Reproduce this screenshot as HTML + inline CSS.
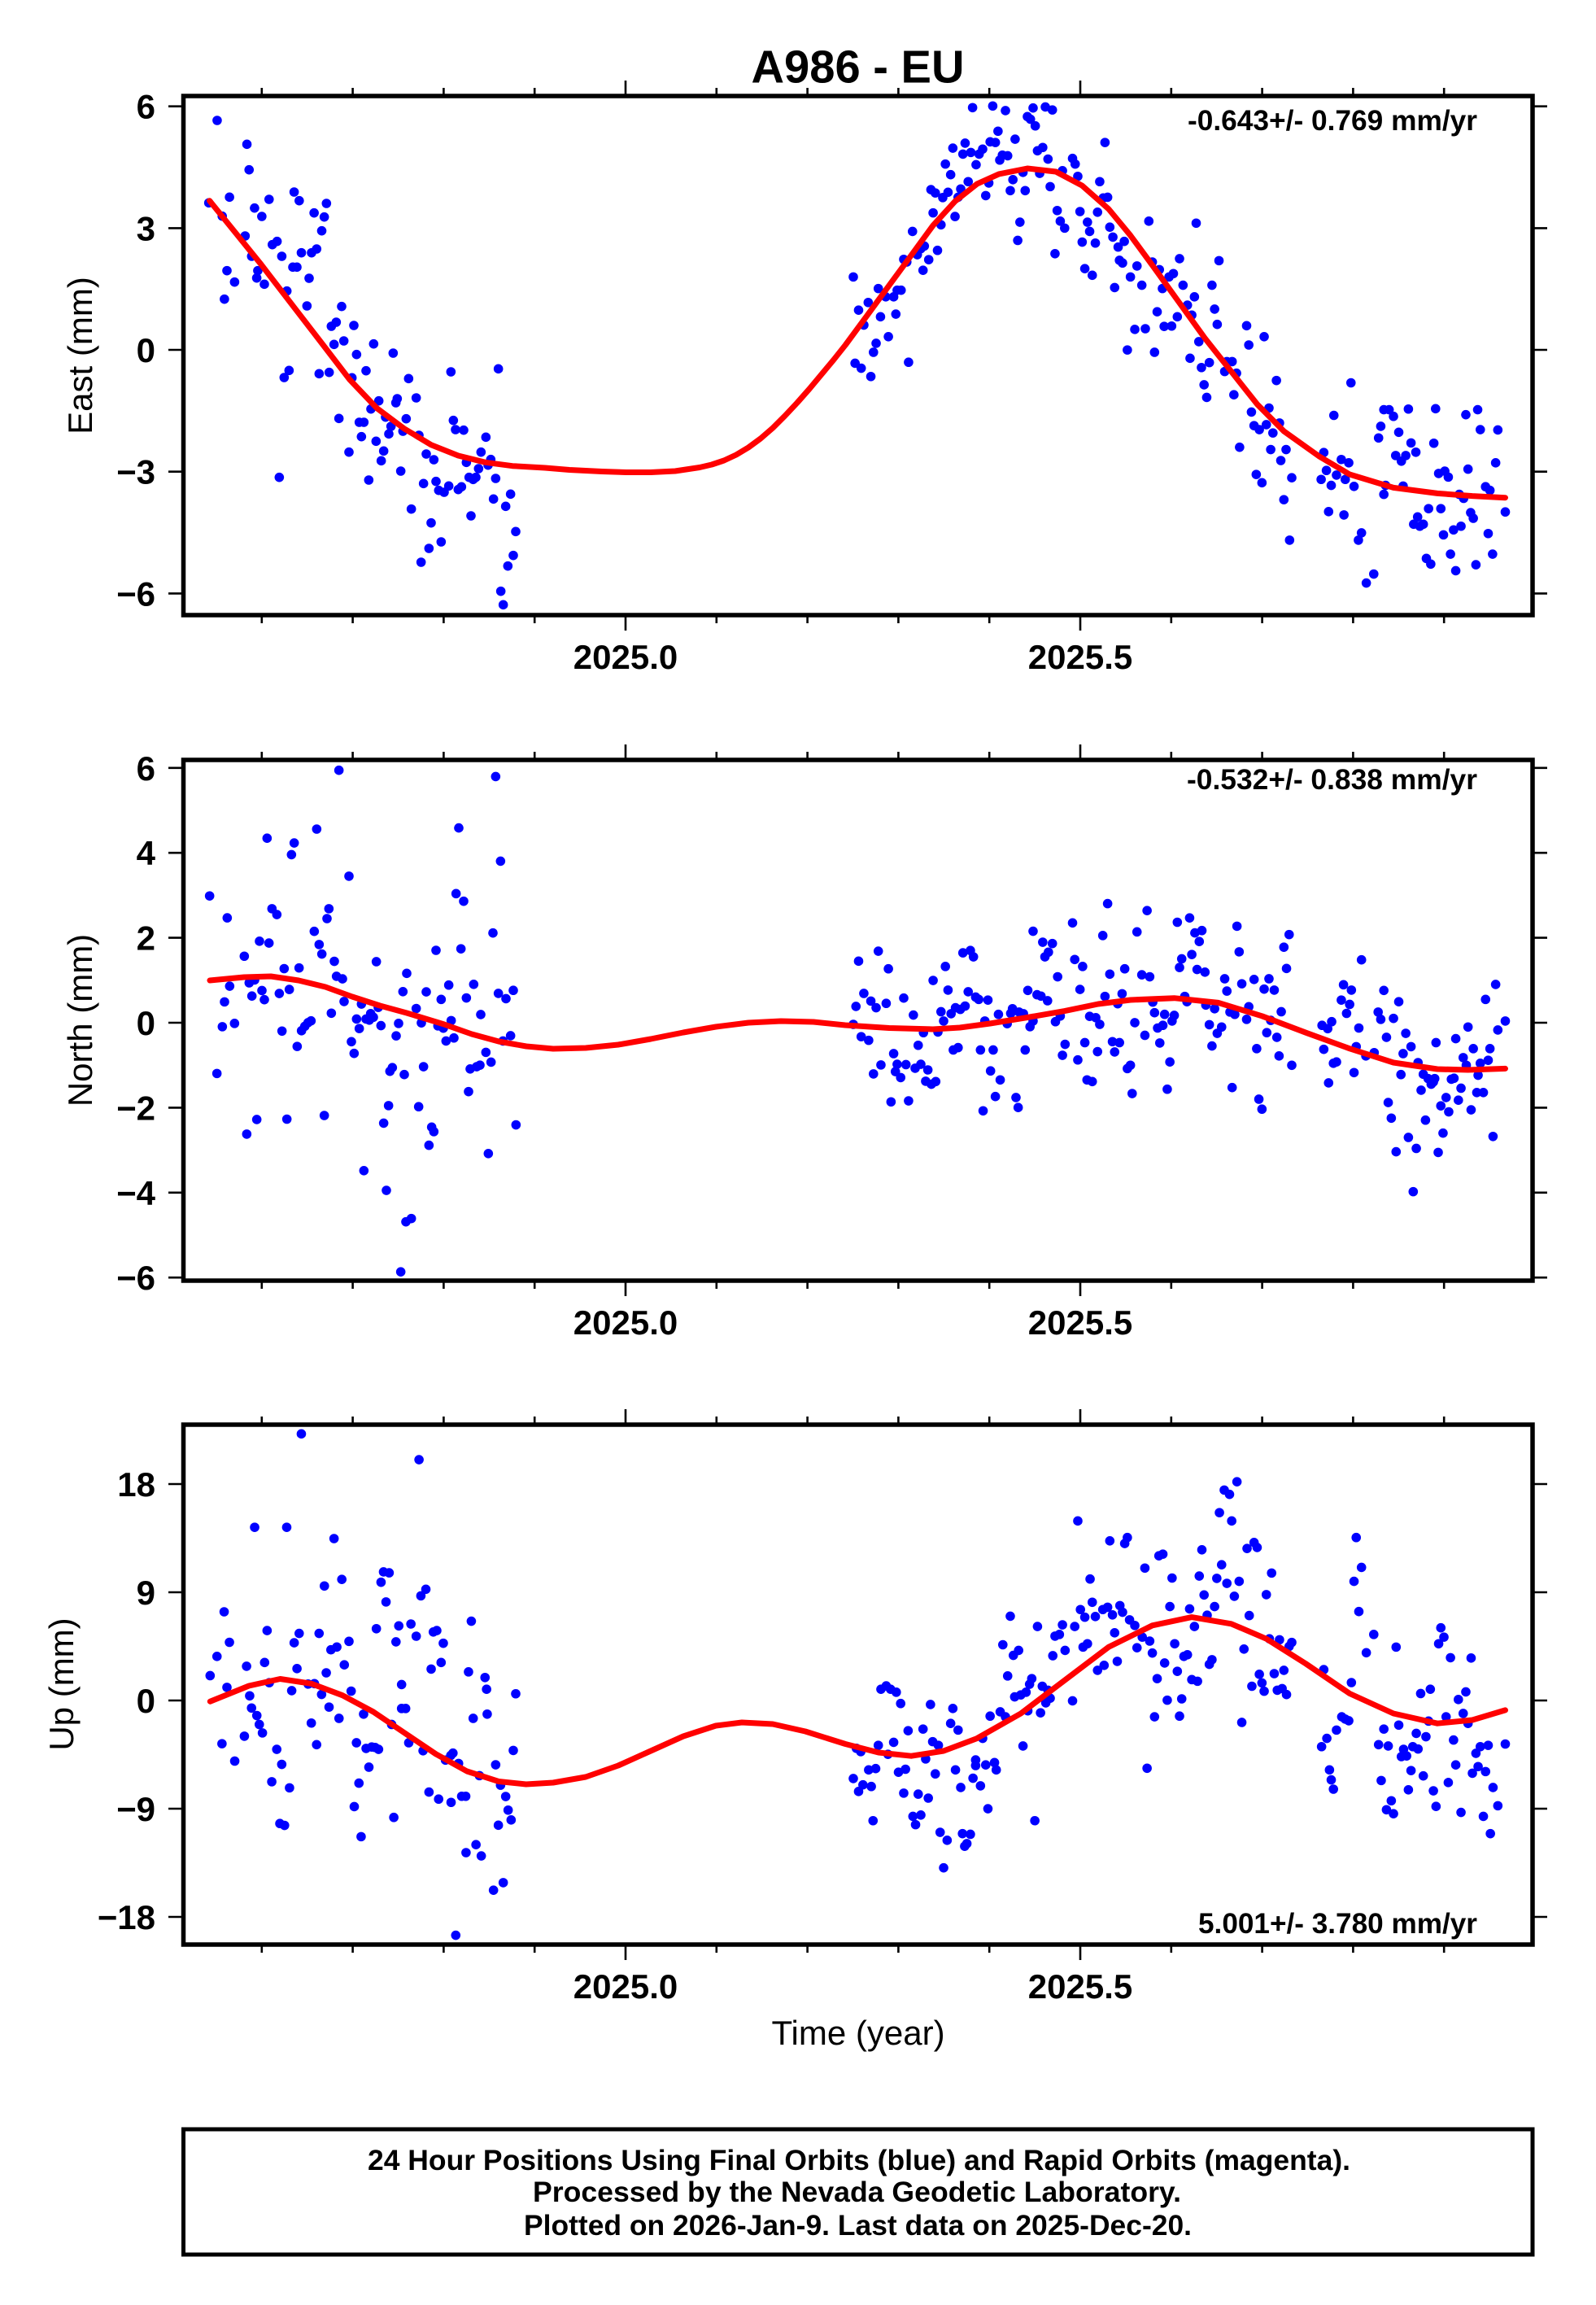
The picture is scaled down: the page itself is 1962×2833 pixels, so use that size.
<!DOCTYPE html>
<html><head><meta charset="utf-8"><title>A986 - EU</title>
<style>
html,body{margin:0;padding:0;background:#fff;}
svg{display:block;}
text{font-family:"Liberation Sans",Arial,Helvetica,sans-serif;fill:#000;}
.b{font-weight:bold;}
</style></head>
<body>
<svg xmlns="http://www.w3.org/2000/svg" width="1962" height="2833" viewBox="0 0 1962 2833">
<rect width="1962" height="2833" fill="#fff"/>
<defs>
<ellipse id="a" rx="13.0" ry="17.4"/>
<circle id="b" r="17.4"/>
<ellipse id="c" rx="10.76" ry="14.2"/>
<ellipse id="d" rx="17.4" ry="12.9"/>
<ellipse id="e" rx="15.16" ry="10.05"/>
<ellipse id="f" rx="17.4" ry="6.25"/>
<path id="tt" d="M321.8 0v-10M433.6 0v-10M545.4 0v-10M657.2 0v-10M880.8 0v-10M992.6 0v-10M1104.4 0v-10M1216.2 0v-10M1439.8 0v-10M1551.6 0v-10M1663.4 0v-10M1775.2 0v-10M769 0v-19M1328 0v-19"/>
<path id="tb" d="M321.8 0v10M433.6 0v10M545.4 0v10M657.2 0v10M880.8 0v10M992.6 0v10M1104.4 0v10M1216.2 0v10M1439.8 0v10M1551.6 0v10M1663.4 0v10M1775.2 0v10M769 0v19M1328 0v19"/>
</defs>

<!-- Title -->
<text class="b" x="1054.5" y="101.7" font-size="57" text-anchor="middle" textLength="262" lengthAdjust="spacingAndGlyphs">A986 - EU</text>

<!-- ================= DOTS ================= -->
<g fill="#0000ff">
<!-- Panel 1 left (zoom1) -->
<g transform="translate(0,0) scale(0.4464,0.33333)">
<use href="#a" x="598" y="444"/><use href="#a" x="680" y="532"/><use href="#a" x="686" y="626"/><use href="#a" x="575" y="748"/><use href="#a" x="632" y="727"/><use href="#a" x="612" y="797"/><use href="#a" x="701" y="767"/><use href="#a" x="721" y="798"/><use href="#a" x="741" y="735"/><use href="#a" x="810" y="708"/><use href="#a" x="824" y="740"/><use href="#a" x="865" y="785"/><use href="#a" x="899" y="750"/><use href="#a" x="893" y="800"/><use href="#a" x="886" y="851"/><use href="#a" x="675" y="870"/><use href="#a" x="750" y="902"/><use href="#a" x="763" y="890"/><use href="#a" x="693" y="945"/><use href="#a" x="776" y="945"/><use href="#a" x="830" y="932"/><use href="#a" x="858" y="932"/><use href="#a" x="872" y="918"/><use href="#a" x="625" y="998"/><use href="#a" x="646" y="1040"/><use href="#a" x="710" y="998"/><use href="#a" x="707" y="1025"/><use href="#a" x="728" y="1048"/><use href="#a" x="618" y="1103"/>
</g>
<!-- Panel 1 left lower (zoom8) -->
<g transform="translate(330,320) scale(0.33333)">
<use href="#b" x="90" y="25"/><use href="#b" x="105" y="25"/><use href="#b" x="150" y="66"/><use href="#b" x="68" y="113"/><use href="#b" x="142" y="168"/><use href="#b" x="270" y="170"/><use href="#b" x="232" y="243"/><use href="#b" x="250" y="228"/><use href="#b" x="315" y="240"/><use href="#b" x="242" y="310"/><use href="#b" x="278" y="297"/><use href="#b" x="388" y="308"/><use href="#b" x="325" y="347"/><use href="#b" x="460" y="342"/><use href="#b" x="76" y="406"/><use href="#b" x="58" y="432"/><use href="#b" x="187" y="418"/><use href="#b" x="224" y="413"/><use href="#b" x="360" y="407"/><use href="#b" x="308" y="433"/><use href="#b" x="517" y="436"/><use href="#b" x="673" y="411"/><use href="#b" x="848" y="400"/><use href="#b" x="475" y="510"/><use href="#b" x="470" y="525"/><use href="#b" x="545" y="507"/><use href="#b" x="407" y="518"/><use href="#b" x="378" y="548"/><use href="#b" x="432" y="578"/><use href="#b" x="508" y="584"/><use href="#b" x="260" y="583"/><use href="#b" x="335" y="597"/><use href="#b" x="352" y="597"/><use href="#b" x="452" y="612"/><use href="#b" x="496" y="630"/><use href="#b" x="555" y="645"/><use href="#b" x="682" y="590"/><use href="#b" x="690" y="624"/><use href="#b" x="720" y="626"/><use href="#b" x="444" y="640"/><use href="#b" x="343" y="650"/><use href="#b" x="397" y="667"/><use href="#b" x="802" y="652"/><use href="#b" x="425" y="703"/><use href="#b" x="297" y="707"/><use href="#b" x="582" y="714"/><use href="#b" x="610" y="735"/><use href="#b" x="784" y="707"/><use href="#b" x="820" y="734"/><use href="#b" x="730" y="745"/><use href="#b" x="810" y="755"/><use href="#b" x="775" y="768"/><use href="#b" x="416" y="739"/><use href="#b" x="488" y="777"/><use href="#b" x="40" y="800"/><use href="#b" x="370" y="810"/><use href="#b" x="740" y="800"/><use href="#b" x="765" y="800"/><use href="#b" x="755" y="808"/><use href="#b" x="838" y="804"/><use href="#b" x="572" y="823"/><use href="#b" x="618" y="815"/><use href="#b" x="628" y="848"/><use href="#b" x="648" y="855"/><use href="#b" x="665" y="832"/><use href="#b" x="700" y="845"/><use href="#b" x="712" y="835"/><use href="#b" x="830" y="880"/><use href="#b" x="893" y="862"/><use href="#b" x="875" y="907"/><use href="#b" x="527" y="917"/><use href="#b" x="747" y="942"/><use href="#b" x="600" y="968"/><use href="#b" x="912" y="1000"/><use href="#b" x="637" y="1038"/><use href="#b" x="592" y="1062"/><use href="#b" x="903" y="1088"/><use href="#b" x="563" y="1113"/><use href="#b" x="883" y="1127"/><use href="#b" x="857" y="1220"/><use href="#b" x="866" y="1270"/>
</g>
<!-- Panel 1 right (zoom9) -->
<g transform="translate(1039.3,118) scale(0.539,0.408)">
<use href="#c" x="290" y="35"/><use href="#c" x="336" y="30"/><use href="#c" x="365" y="44"/><use href="#c" x="428" y="36"/><use href="#c" x="456" y="33"/><use href="#c" x="472" y="42"/><use href="#c" x="415" y="62"/><use href="#c" x="422" y="70"/><use href="#c" x="433" y="90"/><use href="#c" x="348" y="106"/><use href="#c" x="387" y="130"/><use href="#c" x="592" y="140"/><use href="#c" x="273" y="142"/><use href="#c" x="245" y="157"/><use href="#c" x="330" y="138"/><use href="#c" x="342" y="140"/><use href="#c" x="268" y="175"/><use href="#c" x="286" y="170"/><use href="#c" x="305" y="175"/><use href="#c" x="313" y="160"/><use href="#c" x="358" y="178"/><use href="#c" x="370" y="180"/><use href="#c" x="352" y="193"/><use href="#c" x="298" y="207"/><use href="#c" x="228" y="205"/><use href="#c" x="438" y="165"/><use href="#c" x="450" y="155"/><use href="#c" x="462" y="190"/><use href="#c" x="518" y="188"/><use href="#c" x="524" y="205"/><use href="#c" x="240" y="237"/><use href="#c" x="280" y="258"/><use href="#c" x="263" y="280"/><use href="#c" x="195" y="282"/><use href="#c" x="205" y="292"/><use href="#c" x="222" y="306"/><use href="#c" x="234" y="290"/><use href="#c" x="257" y="305"/><use href="#c" x="327" y="262"/><use href="#c" x="320" y="300"/><use href="#c" x="382" y="252"/><use href="#c" x="376" y="285"/><use href="#c" x="410" y="285"/><use href="#c" x="405" y="230"/><use href="#c" x="443" y="233"/><use href="#c" x="495" y="225"/><use href="#c" x="530" y="242"/><use href="#c" x="580" y="258"/><use href="#c" x="467" y="273"/><use href="#c" x="588" y="307"/><use href="#c" x="598" y="305"/><use href="#c" x="200" y="352"/><use href="#c" x="250" y="363"/><use href="#c" x="218" y="388"/><use href="#c" x="483" y="345"/><use href="#c" x="535" y="348"/><use href="#c" x="575" y="350"/><use href="#c" x="490" y="377"/><use href="#c" x="500" y="398"/><use href="#c" x="552" y="380"/><use href="#c" x="557" y="408"/><use href="#c" x="398" y="380"/><use href="#c" x="393" y="435"/><use href="#c" x="153" y="408"/><use href="#c" x="540" y="440"/><use href="#c" x="570" y="443"/><use href="#c" x="603" y="395"/><use href="#c" x="610" y="425"/><use href="#c" x="622" y="455"/><use href="#c" x="636" y="438"/><use href="#c" x="692" y="377"/><use href="#c" x="800" y="383"/><use href="#c" x="478" y="475"/><use href="#c" x="210" y="465"/><use href="#c" x="172" y="460"/><use href="#c" x="180" y="452"/><use href="#c" x="164" y="478"/><use href="#c" x="190" y="493"/><use href="#c" x="133" y="492"/><use href="#c" x="140" y="500"/><use href="#c" x="177" y="525"/><use href="#c" x="18" y="545"/><use href="#c" x="546" y="520"/><use href="#c" x="563" y="540"/><use href="#c" x="625" y="495"/><use href="#c" x="632" y="503"/><use href="#c" x="665" y="512"/><use href="#c" x="700" y="500"/><use href="#c" x="716" y="523"/><use href="#c" x="762" y="490"/><use href="#c" x="852" y="496"/><use href="#c" x="650" y="545"/><use href="#c" x="676" y="570"/><use href="#c" x="614" y="577"/><use href="#c" x="723" y="580"/><use href="#c" x="738" y="545"/><use href="#c" x="748" y="535"/><use href="#c" x="770" y="570"/><use href="#c" x="836" y="570"/><use href="#c" x="75" y="580"/><use href="#c" x="92" y="605"/><use href="#c" x="110" y="605"/><use href="#c" x="118" y="585"/><use href="#c" x="127" y="585"/><use href="#c" x="52" y="622"/><use href="#c" x="30" y="645"/><use href="#c" x="80" y="665"/><use href="#c" x="115" y="657"/><use href="#c" x="42" y="690"/><use href="#c" x="98" y="725"/><use href="#c" x="70" y="745"/><use href="#c" x="64" y="772"/><use href="#c" x="22" y="805"/><use href="#c" x="36" y="820"/><use href="#c" x="58" y="845"/><use href="#c" x="144" y="802"/><use href="#c" x="796" y="605"/><use href="#c" x="780" y="630"/><use href="#c" x="790" y="660"/><use href="#c" x="842" y="642"/><use href="#c" x="848" y="688"/><use href="#c" x="711" y="650"/><use href="#c" x="757" y="665"/><use href="#c" x="727" y="694"/><use href="#c" x="744" y="693"/><use href="#c" x="660" y="703"/><use href="#c" x="684" y="701"/><use href="#c" x="643" y="765"/><use href="#c" x="705" y="772"/><use href="#c" x="915" y="692"/><use href="#c" x="955" y="725"/><use href="#c" x="920" y="750"/><use href="#c" x="806" y="740"/><use href="#c" x="786" y="790"/><use href="#c" x="812" y="818"/><use href="#c" x="830" y="803"/><use href="#c" x="870" y="800"/><use href="#c" x="882" y="800"/><use href="#c" x="865" y="830"/><use href="#c" x="892" y="835"/><use href="#c" x="818" y="870"/><use href="#c" x="824" y="908"/><use href="#c" x="886" y="900"/><use href="#c" x="983" y="857"/><use href="#c" x="1153" y="864"/><use href="#c" x="926" y="952"/><use href="#c" x="966" y="940"/><use href="#c" x="1114" y="962"/><use href="#c" x="932" y="993"/><use href="#c" x="944" y="1005"/><use href="#c" x="960" y="990"/><use href="#c" x="990" y="985"/><use href="#c" x="975" y="1015"/><use href="#c" x="899" y="1058"/><use href="#c" x="970" y="1065"/><use href="#c" x="1005" y="1065"/><use href="#c" x="993" y="1098"/><use href="#c" x="937" y="1140"/><use href="#c" x="950" y="1165"/><use href="#c" x="1018" y="1150"/><use href="#c" x="1000" y="1216"/><use href="#c" x="1013" y="1338"/><use href="#c" x="1091" y="1074"/><use href="#c" x="1097" y="1128"/><use href="#c" x="1085" y="1155"/><use href="#c" x="1108" y="1173"/><use href="#c" x="1120" y="1142"/><use href="#c" x="1131" y="1095"/><use href="#c" x="1148" y="1105"/><use href="#c" x="1140" y="1155"/><use href="#c" x="1160" y="1176"/><use href="#c" x="1102" y="1252"/><use href="#c" x="1137" y="1262"/><use href="#c" x="1177" y="1316"/><use href="#c" x="1170" y="1338"/><use href="#c" x="1205" y="1440"/><use href="#c" x="1188" y="1467"/><use href="#c" x="1228" y="945"/><use href="#c" x="1240" y="945"/><use href="#c" x="1250" y="965"/><use href="#c" x="1284" y="943"/><use href="#c" x="1346" y="942"/><use href="#c" x="1415" y="960"/><use href="#c" x="1442" y="945"/><use href="#c" x="1221" y="995"/><use href="#c" x="1216" y="1030"/><use href="#c" x="1262" y="1013"/><use href="#c" x="1290" y="1045"/><use href="#c" x="1342" y="1046"/><use href="#c" x="1301" y="1073"/><use href="#c" x="1255" y="1083"/><use href="#c" x="1268" y="1100"/><use href="#c" x="1278" y="1083"/><use href="#c" x="1448" y="1005"/><use href="#c" x="1488" y="1006"/><use href="#c" x="1353" y="1137"/><use href="#c" x="1367" y="1130"/><use href="#c" x="1375" y="1148"/><use href="#c" x="1420" y="1124"/><use href="#c" x="1483" y="1105"/><use href="#c" x="1232" y="1173"/><use href="#c" x="1228" y="1200"/><use href="#c" x="1272" y="1175"/><use href="#c" x="1400" y="1200"/><use href="#c" x="1410" y="1212"/><use href="#c" x="1460" y="1177"/><use href="#c" x="1470" y="1188"/><use href="#c" x="1330" y="1243"/><use href="#c" x="1358" y="1243"/><use href="#c" x="1305" y="1268"/><use href="#c" x="1296" y="1290"/><use href="#c" x="1318" y="1290"/><use href="#c" x="1310" y="1296"/><use href="#c" x="1364" y="1322"/><use href="#c" x="1387" y="1307"/><use href="#c" x="1404" y="1296"/><use href="#c" x="1426" y="1255"/><use href="#c" x="1432" y="1272"/><use href="#c" x="1466" y="1318"/><use href="#c" x="1505" y="1253"/><use href="#c" x="1380" y="1380"/><use href="#c" x="1325" y="1393"/><use href="#c" x="1335" y="1410"/><use href="#c" x="1392" y="1430"/><use href="#c" x="1438" y="1412"/><use href="#c" x="1476" y="1380"/>
</g>

<!-- Panel 2 left (zoom4) -->
<g transform="translate(0,900) scale(0.33333,0.449)">
<use href="#d" x="1250" y="104"/><use href="#d" x="985" y="290"/><use href="#d" x="1085" y="303"/><use href="#d" x="1075" y="335"/><use href="#d" x="1168" y="265"/><use href="#d" x="1287" y="394"/><use href="#d" x="773" y="448"/><use href="#d" x="838" y="508"/><use href="#d" x="1003" y="483"/><use href="#d" x="1021" y="499"/><use href="#d" x="1213" y="483"/><use href="#d" x="1206" y="510"/><use href="#d" x="1159" y="545"/><use href="#d" x="957" y="572"/><use href="#d" x="992" y="577"/><use href="#d" x="1177" y="581"/><use href="#d" x="1187" y="607"/><use href="#d" x="1388" y="628"/><use href="#d" x="1233" y="627"/><use href="#d" x="901" y="613"/><use href="#d" x="1048" y="647"/><use href="#d" x="1103" y="645"/><use href="#d" x="1241" y="668"/><use href="#d" x="1263" y="675"/><use href="#d" x="1500" y="660"/><use href="#d" x="1486" y="710"/><use href="#d" x="939" y="678"/><use href="#d" x="919" y="686"/><use href="#d" x="847" y="695"/><use href="#d" x="966" y="707"/><use href="#d" x="929" y="722"/><use href="#d" x="975" y="732"/><use href="#d" x="1030" y="715"/><use href="#d" x="1067" y="704"/><use href="#d" x="828" y="738"/><use href="#d" x="1269" y="737"/><use href="#d" x="1333" y="744"/><use href="#d" x="1222" y="769"/><use href="#d" x="1395" y="753"/><use href="#d" x="1367" y="770"/><use href="#d" x="1350" y="785"/><use href="#d" x="1377" y="780"/><use href="#d" x="1315" y="785"/><use href="#d" x="1362" y="788"/><use href="#d" x="1147" y="790"/><use href="#d" x="1136" y="795"/><use href="#d" x="1124" y="805"/><use href="#d" x="1112" y="817"/><use href="#d" x="1040" y="818"/><use href="#d" x="865" y="797"/><use href="#d" x="820" y="806"/><use href="#d" x="1405" y="803"/><use href="#d" x="1470" y="797"/><use href="#d" x="1325" y="811"/><use href="#d" x="1296" y="847"/><use href="#d" x="1306" y="879"/><use href="#d" x="1096" y="860"/><use href="#d" x="1461" y="831"/><use href="#d" x="1447" y="918"/><use href="#d" x="1438" y="928"/><use href="#d" x="1491" y="937"/><use href="#d" x="800" y="934"/><use href="#d" x="1433" y="1022"/><use href="#d" x="1415" y="1070"/><use href="#d" x="1196" y="1049"/><use href="#d" x="1058" y="1059"/><use href="#d" x="947" y="1060"/><use href="#d" x="910" y="1100"/><use href="#d" x="1342" y="1200"/><use href="#d" x="1425" y="1254"/><use href="#d" x="1478" y="1477"/><use href="#d" x="1497" y="1340"/>
</g>
<!-- Panel 2 mid-left & panel 3 mid (zoom12) -->
<g transform="translate(480,934) scale(0.33333,0.9286)">
<use href="#f" x="388" y="22"/><use href="#f" x="252" y="90"/><use href="#f" x="406" y="134"/><use href="#f" x="242" y="177"/><use href="#f" x="270" y="187"/><use href="#f" x="378" y="229"/><use href="#f" x="168" y="252"/><use href="#f" x="260" y="250"/><use href="#f" x="132" y="307"/><use href="#f" x="215" y="298"/><use href="#f" x="187" y="317"/><use href="#f" x="280" y="315"/><use href="#f" x="307" y="297"/><use href="#f" x="398" y="309"/><use href="#f" x="426" y="316"/><use href="#f" x="453" y="305"/><use href="#f" x="95" y="329"/><use href="#f" x="114" y="348"/><use href="#f" x="224" y="345"/><use href="#f" x="175" y="352"/><use href="#f" x="195" y="355"/><use href="#f" x="205" y="372"/><use href="#f" x="234" y="368"/><use href="#f" x="333" y="337"/><use href="#f" x="443" y="365"/><use href="#f" x="415" y="372"/><use href="#f" x="352" y="387"/><use href="#f" x="371" y="400"/><use href="#f" x="122" y="406"/><use href="#f" x="294" y="409"/><use href="#f" x="318" y="406"/><use href="#f" x="330" y="404"/><use href="#f" x="288" y="439"/><use href="#f" x="104" y="459"/><use href="#f" x="152" y="486"/><use href="#f" x="160" y="492"/><use href="#f" x="142" y="510"/><use href="#f" x="463" y="483"/><use href="#f" x="361" y="521"/><use href="#f" x="77" y="607"/>
<use href="#f" x="462" y="1236"/><use href="#f" x="453" y="1311"/><use href="#f" x="388" y="1330"/><use href="#f" x="406" y="1357"/><use href="#f" x="425" y="1372"/><use href="#f" x="434" y="1390"/><use href="#f" x="445" y="1403"/><use href="#f" x="398" y="1410"/><use href="#f" x="380" y="1496"/><use href="#f" x="416" y="1486"/>
</g>
<!-- Panel 2 right (zoom10) -->
<g transform="translate(1039.3,934) scale(0.539,0.4088)">
<use href="#c" x="598" y="432"/><use href="#c" x="688" y="453"/><use href="#c" x="518" y="490"/><use href="#c" x="757" y="488"/><use href="#c" x="785" y="475"/><use href="#c" x="893" y="500"/><use href="#c" x="428" y="515"/><use href="#c" x="665" y="517"/><use href="#c" x="587" y="528"/><use href="#c" x="797" y="520"/><use href="#c" x="813" y="513"/><use href="#c" x="807" y="546"/><use href="#c" x="1012" y="525"/><use href="#c" x="450" y="548"/><use href="#c" x="472" y="552"/><use href="#c" x="463" y="578"/><use href="#c" x="455" y="592"/><use href="#c" x="1000" y="563"/><use href="#c" x="898" y="577"/><use href="#c" x="75" y="575"/><use href="#c" x="30" y="605"/><use href="#c" x="98" y="628"/><use href="#c" x="268" y="580"/><use href="#c" x="285" y="573"/><use href="#c" x="292" y="592"/><use href="#c" x="523" y="600"/><use href="#c" x="541" y="621"/><use href="#c" x="637" y="628"/><use href="#c" x="603" y="644"/><use href="#c" x="676" y="646"/><use href="#c" x="694" y="652"/><use href="#c" x="767" y="598"/><use href="#c" x="762" y="624"/><use href="#c" x="790" y="585"/><use href="#c" x="802" y="630"/><use href="#c" x="820" y="638"/><use href="#c" x="1006" y="627"/><use href="#c" x="1177" y="601"/><use href="#c" x="228" y="621"/><use href="#c" x="200" y="663"/><use href="#c" x="484" y="652"/><use href="#c" x="865" y="658"/><use href="#c" x="904" y="673"/><use href="#c" x="932" y="660"/><use href="#c" x="966" y="658"/><use href="#c" x="955" y="689"/><use href="#c" x="978" y="692"/><use href="#c" x="870" y="695"/><use href="#c" x="1136" y="676"/><use href="#c" x="1154" y="692"/><use href="#c" x="1228" y="693"/><use href="#c" x="1483" y="675"/><use href="#c" x="42" y="702"/><use href="#c" x="58" y="725"/><use href="#c" x="70" y="745"/><use href="#c" x="24" y="741"/><use href="#c" x="93" y="732"/><use href="#c" x="133" y="716"/><use href="#c" x="234" y="692"/><use href="#c" x="280" y="697"/><use href="#c" x="297" y="713"/><use href="#c" x="304" y="720"/><use href="#c" x="325" y="722"/><use href="#c" x="416" y="693"/><use href="#c" x="437" y="706"/><use href="#c" x="446" y="710"/><use href="#c" x="461" y="724"/><use href="#c" x="535" y="690"/><use href="#c" x="592" y="711"/><use href="#c" x="631" y="703"/><use href="#c" x="621" y="733"/><use href="#c" x="701" y="728"/><use href="#c" x="774" y="711"/><use href="#c" x="779" y="727"/><use href="#c" x="822" y="737"/><use href="#c" x="842" y="748"/><use href="#c" x="920" y="742"/><use href="#c" x="1131" y="722"/><use href="#c" x="1150" y="735"/><use href="#c" x="1143" y="762"/><use href="#c" x="1262" y="727"/><use href="#c" x="1460" y="720"/><use href="#c" x="18" y="795"/><use href="#c" x="155" y="767"/><use href="#c" x="218" y="757"/><use href="#c" x="241" y="763"/><use href="#c" x="251" y="745"/><use href="#c" x="262" y="750"/><use href="#c" x="273" y="740"/><use href="#c" x="224" y="785"/><use href="#c" x="349" y="765"/><use href="#c" x="381" y="748"/><use href="#c" x="377" y="762"/><use href="#c" x="369" y="793"/><use href="#c" x="396" y="758"/><use href="#c" x="406" y="763"/><use href="#c" x="428" y="785"/><use href="#c" x="421" y="802"/><use href="#c" x="479" y="787"/><use href="#c" x="490" y="770"/><use href="#c" x="557" y="771"/><use href="#c" x="571" y="775"/><use href="#c" x="580" y="795"/><use href="#c" x="660" y="790"/><use href="#c" x="705" y="760"/><use href="#c" x="728" y="765"/><use href="#c" x="750" y="768"/><use href="#c" x="745" y="785"/><use href="#c" x="712" y="806"/><use href="#c" x="724" y="798"/><use href="#c" x="830" y="796"/><use href="#c" x="858" y="803"/><use href="#c" x="848" y="822"/><use href="#c" x="877" y="758"/><use href="#c" x="888" y="765"/><use href="#c" x="915" y="780"/><use href="#c" x="994" y="757"/><use href="#c" x="970" y="783"/><use href="#c" x="1087" y="798"/><use href="#c" x="1100" y="808"/><use href="#c" x="1109" y="787"/><use href="#c" x="1215" y="758"/><use href="#c" x="1221" y="780"/><use href="#c" x="1250" y="777"/><use href="#c" x="1505" y="785"/><use href="#c" x="1488" y="812"/><use href="#c" x="1420" y="803"/><use href="#c" x="36" y="832"/><use href="#c" x="53" y="843"/><use href="#c" x="178" y="820"/><use href="#c" x="211" y="818"/><use href="#c" x="318" y="785"/><use href="#c" x="166" y="858"/><use href="#c" x="246" y="872"/><use href="#c" x="257" y="865"/><use href="#c" x="308" y="872"/><use href="#c" x="337" y="872"/><use href="#c" x="410" y="872"/><use href="#c" x="501" y="855"/><use href="#c" x="546" y="850"/><use href="#c" x="575" y="877"/><use href="#c" x="609" y="847"/><use href="#c" x="625" y="850"/><use href="#c" x="614" y="878"/><use href="#c" x="683" y="828"/><use href="#c" x="717" y="851"/><use href="#c" x="836" y="860"/><use href="#c" x="961" y="820"/><use href="#c" x="984" y="834"/><use href="#c" x="938" y="868"/><use href="#c" x="989" y="890"/><use href="#c" x="1091" y="870"/><use href="#c" x="1171" y="806"/><use href="#c" x="1165" y="862"/><use href="#c" x="1187" y="890"/><use href="#c" x="1206" y="880"/><use href="#c" x="1234" y="834"/><use href="#c" x="1278" y="822"/><use href="#c" x="1290" y="862"/><use href="#c" x="1272" y="883"/><use href="#c" x="1347" y="850"/><use href="#c" x="1392" y="838"/><use href="#c" x="1432" y="868"/><use href="#c" x="1470" y="868"/><use href="#c" x="110" y="883"/><use href="#c" x="81" y="917"/><use href="#c" x="64" y="944"/><use href="#c" x="118" y="915"/><use href="#c" x="138" y="916"/><use href="#c" x="114" y="937"/><use href="#c" x="126" y="955"/><use href="#c" x="159" y="927"/><use href="#c" x="172" y="915"/><use href="#c" x="188" y="932"/><use href="#c" x="183" y="966"/><use href="#c" x="196" y="975"/><use href="#c" x="206" y="967"/><use href="#c" x="331" y="935"/><use href="#c" x="353" y="962"/><use href="#c" x="495" y="888"/><use href="#c" x="530" y="902"/><use href="#c" x="643" y="928"/><use href="#c" x="650" y="918"/><use href="#c" x="740" y="908"/><use href="#c" x="1018" y="918"/><use href="#c" x="1113" y="912"/><use href="#c" x="1120" y="908"/><use href="#c" x="1160" y="940"/><use href="#c" x="1306" y="910"/><use href="#c" x="1267" y="946"/><use href="#c" x="1318" y="945"/><use href="#c" x="1329" y="958"/><use href="#c" x="1341" y="968"/><use href="#c" x="1336" y="975"/><use href="#c" x="1313" y="993"/><use href="#c" x="1344" y="958"/><use href="#c" x="1382" y="960"/><use href="#c" x="1388" y="957"/><use href="#c" x="1409" y="895"/><use href="#c" x="1416" y="918"/><use href="#c" x="1448" y="912"/><use href="#c" x="1466" y="903"/><use href="#c" x="1443" y="948"/><use href="#c" x="1404" y="987"/><use href="#c" x="1440" y="1000"/><use href="#c" x="1455" y="1000"/><use href="#c" x="1370" y="1015"/><use href="#c" x="1398" y="1023"/><use href="#c" x="1358" y="1040"/><use href="#c" x="1376" y="1058"/><use href="#c" x="1427" y="1052"/><use href="#c" x="1238" y="1030"/><use href="#c" x="1245" y="1077"/><use href="#c" x="1323" y="1083"/><use href="#c" x="1363" y="1122"/><use href="#c" x="1284" y="1135"/><use href="#c" x="1302" y="1168"/><use href="#c" x="1256" y="1178"/><use href="#c" x="1352" y="1180"/><use href="#c" x="1477" y="1132"/><use href="#c" x="1295" y="1298"/><use href="#c" x="551" y="962"/><use href="#c" x="563" y="967"/><use href="#c" x="654" y="1003"/><use href="#c" x="734" y="990"/><use href="#c" x="882" y="985"/><use href="#c" x="943" y="1020"/><use href="#c" x="950" y="1050"/><use href="#c" x="1102" y="971"/><use href="#c" x="104" y="1028"/><use href="#c" x="144" y="1025"/><use href="#c" x="342" y="1012"/><use href="#c" x="389" y="1015"/><use href="#c" x="394" y="1045"/><use href="#c" x="314" y="1055"/>
</g>

<!-- Panel 3 left (zoom6) -->
<g transform="translate(0,1700) scale(0.3827,0.577)">
<use href="#e" x="968" y="108"/><use href="#e" x="1346" y="163"/><use href="#e" x="818" y="307"/><use href="#e" x="921" y="307"/><use href="#e" x="1073" y="331"/><use href="#e" x="1042" y="432"/><use href="#e" x="1098" y="418"/><use href="#e" x="1224" y="424"/><use href="#e" x="1232" y="402"/><use href="#e" x="1250" y="404"/><use href="#e" x="1240" y="466"/><use href="#e" x="1352" y="453"/><use href="#e" x="1368" y="439"/><use href="#e" x="720" y="487"/><use href="#e" x="697" y="582"/><use href="#e" x="737" y="552"/><use href="#e" x="675" y="623"/><use href="#e" x="729" y="648"/><use href="#e" x="792" y="603"/><use href="#e" x="802" y="666"/><use href="#e" x="808" y="692"/><use href="#e" x="825" y="708"/><use href="#e" x="833" y="727"/><use href="#e" x="843" y="745"/><use href="#e" x="850" y="595"/><use href="#e" x="858" y="527"/><use href="#e" x="865" y="638"/><use href="#e" x="937" y="655"/><use href="#e" x="945" y="553"/><use href="#e" x="954" y="608"/><use href="#e" x="961" y="533"/><use href="#e" x="1025" y="533"/><use href="#e" x="1048" y="617"/><use href="#e" x="1063" y="568"/><use href="#e" x="1082" y="562"/><use href="#e" x="1106" y="600"/><use href="#e" x="1121" y="550"/><use href="#e" x="1128" y="656"/><use href="#e" x="1209" y="523"/><use href="#e" x="1272" y="551"/><use href="#e" x="1281" y="517"/><use href="#e" x="1290" y="642"/><use href="#e" x="1320" y="513"/><use href="#e" x="1337" y="539"/><use href="#e" x="1392" y="530"/><use href="#e" x="1403" y="527"/><use href="#e" x="1385" y="609"/><use href="#e" x="1424" y="554"/><use href="#e" x="1417" y="595"/><use href="#e" x="1505" y="615"/><use href="#e" x="1514" y="507"/><use href="#e" x="1558" y="627"/><use href="#e" x="1563" y="652"/><use href="#e" x="1520" y="714"/><use href="#e" x="1565" y="705"/><use href="#e" x="713" y="768"/><use href="#e" x="754" y="805"/><use href="#e" x="785" y="752"/><use href="#e" x="873" y="849"/><use href="#e" x="889" y="780"/><use href="#e" x="905" y="812"/><use href="#e" x="930" y="862"/><use href="#e" x="899" y="938"/><use href="#e" x="914" y="942"/><use href="#e" x="990" y="641"/><use href="#e" x="1010" y="640"/><use href="#e" x="1033" y="663"/><use href="#e" x="1057" y="690"/><use href="#e" x="1089" y="714"/><use href="#e" x="1000" y="724"/><use href="#e" x="1017" y="770"/><use href="#e" x="1145" y="766"/><use href="#e" x="1153" y="852"/><use href="#e" x="1168" y="705"/><use href="#e" x="1176" y="778"/><use href="#e" x="1194" y="775"/><use href="#e" x="1205" y="776"/><use href="#e" x="1216" y="780"/><use href="#e" x="1185" y="818"/><use href="#e" x="1138" y="902"/><use href="#e" x="1160" y="966"/><use href="#e" x="1258" y="727"/><use href="#e" x="1265" y="925"/><use href="#e" x="1290" y="693"/><use href="#e" x="1303" y="693"/><use href="#e" x="1313" y="766"/><use href="#e" x="1359" y="783"/><use href="#e" x="1378" y="871"/><use href="#e" x="1409" y="886"/><use href="#e" x="1431" y="803"/><use href="#e" x="1448" y="793"/><use href="#e" x="1455" y="788"/><use href="#e" x="1473" y="810"/><use href="#e" x="1449" y="893"/><use href="#e" x="1483" y="880"/><use href="#e" x="1496" y="880"/><use href="#e" x="1540" y="836"/><use href="#e" x="1497" y="1000"/><use href="#e" x="1529" y="983"/><use href="#e" x="1546" y="1007"/><use href="#e" x="1464" y="1176"/>
</g>
<!-- Panel 3 right (zoom11) -->
<g transform="translate(1039.3,1751) scale(0.539,0.408)">
<use href="#c" x="893" y="172"/><use href="#c" x="864" y="197"/><use href="#c" x="876" y="210"/><use href="#c" x="853" y="265"/><use href="#c" x="881" y="290"/><use href="#c" x="530" y="290"/><use href="#c" x="1165" y="340"/><use href="#c" x="603" y="350"/><use href="#c" x="643" y="340"/><use href="#c" x="637" y="358"/><use href="#c" x="916" y="373"/><use href="#c" x="932" y="355"/><use href="#c" x="939" y="370"/><use href="#c" x="813" y="377"/><use href="#c" x="715" y="395"/><use href="#c" x="724" y="390"/><use href="#c" x="858" y="422"/><use href="#c" x="683" y="432"/><use href="#c" x="1177" y="430"/><use href="#c" x="745" y="462"/><use href="#c" x="807" y="456"/><use href="#c" x="847" y="463"/><use href="#c" x="870" y="478"/><use href="#c" x="898" y="472"/><use href="#c" x="972" y="447"/><use href="#c" x="558" y="465"/><use href="#c" x="1160" y="472"/><use href="#c" x="887" y="517"/><use href="#c" x="818" y="513"/><use href="#c" x="960" y="512"/><use href="#c" x="563" y="535"/><use href="#c" x="536" y="557"/><use href="#c" x="546" y="580"/><use href="#c" x="570" y="578"/><use href="#c" x="587" y="557"/><use href="#c" x="598" y="550"/><use href="#c" x="609" y="573"/><use href="#c" x="626" y="545"/><use href="#c" x="632" y="565"/><use href="#c" x="740" y="548"/><use href="#c" x="785" y="555"/><use href="#c" x="842" y="548"/><use href="#c" x="825" y="574"/><use href="#c" x="921" y="575"/><use href="#c" x="1171" y="563"/><use href="#c" x="376" y="577"/><use href="#c" x="438" y="608"/><use href="#c" x="495" y="603"/><use href="#c" x="523" y="608"/><use href="#c" x="478" y="637"/><use href="#c" x="488" y="632"/><use href="#c" x="648" y="588"/><use href="#c" x="660" y="605"/><use href="#c" x="614" y="627"/><use href="#c" x="796" y="608"/><use href="#c" x="677" y="640"/><use href="#c" x="694" y="652"/><use href="#c" x="1205" y="632"/><use href="#c" x="1358" y="612"/><use href="#c" x="1365" y="640"/><use href="#c" x="1353" y="660"/><use href="#c" x="967" y="645"/><use href="#c" x="990" y="648"/><use href="#c" x="1018" y="656"/><use href="#c" x="1012" y="668"/><use href="#c" x="1256" y="670"/><use href="#c" x="359" y="663"/><use href="#c" x="395" y="680"/><use href="#c" x="383" y="695"/><use href="#c" x="501" y="680"/><use href="#c" x="473" y="696"/><use href="#c" x="542" y="670"/><use href="#c" x="552" y="660"/><use href="#c" x="665" y="672"/><use href="#c" x="700" y="688"/><use href="#c" x="751" y="660"/><use href="#c" x="909" y="676"/><use href="#c" x="1188" y="687"/><use href="#c" x="1380" y="702"/><use href="#c" x="1427" y="703"/><use href="#c" x="370" y="757"/><use href="#c" x="425" y="765"/><use href="#c" x="420" y="782"/><use href="#c" x="449" y="788"/><use href="#c" x="412" y="806"/><use href="#c" x="400" y="814"/><use href="#c" x="386" y="820"/><use href="#c" x="462" y="800"/><use href="#c" x="467" y="824"/><use href="#c" x="457" y="838"/><use href="#c" x="445" y="868"/><use href="#c" x="416" y="862"/><use href="#c" x="575" y="740"/><use href="#c" x="590" y="725"/><use href="#c" x="620" y="713"/><use href="#c" x="728" y="718"/><use href="#c" x="757" y="743"/><use href="#c" x="711" y="765"/><use href="#c" x="772" y="698"/><use href="#c" x="780" y="693"/><use href="#c" x="830" y="722"/><use href="#c" x="836" y="708"/><use href="#c" x="790" y="768"/><use href="#c" x="803" y="773"/><use href="#c" x="944" y="752"/><use href="#c" x="950" y="778"/><use href="#c" x="978" y="750"/><use href="#c" x="1000" y="740"/><use href="#c" x="927" y="788"/><use href="#c" x="955" y="803"/><use href="#c" x="985" y="800"/><use href="#c" x="996" y="795"/><use href="#c" x="1006" y="813"/><use href="#c" x="1091" y="738"/><use href="#c" x="1154" y="777"/><use href="#c" x="1312" y="810"/><use href="#c" x="1334" y="797"/><use href="#c" x="1398" y="828"/><use href="#c" x="1415" y="805"/><use href="#c" x="81" y="797"/><use href="#c" x="93" y="787"/><use href="#c" x="103" y="797"/><use href="#c" x="116" y="806"/><use href="#c" x="126" y="840"/><use href="#c" x="194" y="843"/><use href="#c" x="245" y="855"/><use href="#c" x="518" y="832"/><use href="#c" x="734" y="830"/><use href="#c" x="767" y="826"/><use href="#c" x="705" y="880"/><use href="#c" x="762" y="878"/><use href="#c" x="904" y="897"/><use href="#c" x="353" y="865"/><use href="#c" x="365" y="880"/><use href="#c" x="330" y="878"/><use href="#c" x="240" y="900"/><use href="#c" x="257" y="920"/><use href="#c" x="143" y="922"/><use href="#c" x="177" y="917"/><use href="#c" x="199" y="955"/><use href="#c" x="212" y="966"/><use href="#c" x="313" y="945"/><use href="#c" x="110" y="957"/><use href="#c" x="75" y="966"/><use href="#c" x="25" y="975"/><use href="#c" x="35" y="985"/><use href="#c" x="97" y="993"/><use href="#c" x="183" y="1007"/><use href="#c" x="1086" y="970"/><use href="#c" x="1098" y="945"/><use href="#c" x="1120" y="920"/><use href="#c" x="1132" y="880"/><use href="#c" x="1148" y="892"/><use href="#c" x="1140" y="887"/><use href="#c" x="1228" y="917"/><use href="#c" x="1262" y="905"/><use href="#c" x="1302" y="930"/><use href="#c" x="1324" y="940"/><use href="#c" x="1330" y="893"/><use href="#c" x="1370" y="880"/><use href="#c" x="1409" y="870"/><use href="#c" x="1420" y="900"/><use href="#c" x="1216" y="964"/><use href="#c" x="1238" y="968"/><use href="#c" x="1273" y="978"/><use href="#c" x="1268" y="1000"/><use href="#c" x="1280" y="998"/><use href="#c" x="1294" y="970"/><use href="#c" x="1306" y="977"/><use href="#c" x="1387" y="950"/><use href="#c" x="1466" y="966"/><use href="#c" x="1505" y="962"/><use href="#c" x="1448" y="970"/><use href="#c" x="1438" y="990"/><use href="#c" x="1443" y="1030"/><use href="#c" x="1460" y="1045"/><use href="#c" x="1430" y="1050"/><use href="#c" x="1392" y="1025"/><use href="#c" x="1290" y="1042"/><use href="#c" x="1318" y="1058"/><use href="#c" x="1222" y="1072"/><use href="#c" x="1375" y="1078"/><use href="#c" x="1284" y="1100"/><use href="#c" x="1341" y="1103"/><use href="#c" x="1477" y="1093"/><use href="#c" x="1104" y="1040"/><use href="#c" x="1108" y="1070"/><use href="#c" x="1113" y="1098"/><use href="#c" x="1245" y="1133"/><use href="#c" x="1234" y="1160"/><use href="#c" x="1250" y="1172"/><use href="#c" x="1347" y="1150"/><use href="#c" x="1404" y="1168"/><use href="#c" x="1455" y="1180"/><use href="#c" x="1488" y="1148"/><use href="#c" x="1471" y="1232"/><use href="#c" x="18" y="1066"/><use href="#c" x="53" y="1040"/><use href="#c" x="69" y="1036"/><use href="#c" x="40" y="1085"/><use href="#c" x="59" y="1090"/><use href="#c" x="30" y="1105"/><use href="#c" x="121" y="1047"/><use href="#c" x="137" y="1038"/><use href="#c" x="205" y="1052"/><use href="#c" x="251" y="1040"/><use href="#c" x="297" y="1010"/><use href="#c" x="297" y="1027"/><use href="#c" x="320" y="1025"/><use href="#c" x="340" y="1018"/><use href="#c" x="344" y="1040"/><use href="#c" x="291" y="1065"/><use href="#c" x="263" y="1093"/><use href="#c" x="308" y="1088"/><use href="#c" x="133" y="1110"/><use href="#c" x="166" y="1113"/><use href="#c" x="189" y="1125"/><use href="#c" x="325" y="1157"/><use href="#c" x="63" y="1193"/><use href="#c" x="154" y="1180"/><use href="#c" x="172" y="1176"/><use href="#c" x="160" y="1205"/><use href="#c" x="216" y="1228"/><use href="#c" x="232" y="1252"/><use href="#c" x="267" y="1232"/><use href="#c" x="285" y="1234"/><use href="#c" x="277" y="1262"/><use href="#c" x="272" y="1270"/><use href="#c" x="224" y="1335"/><use href="#c" x="405" y="968"/><use href="#c" x="432" y="1193"/><use href="#c" x="688" y="1035"/>
</g>
</g>

<!-- ================= RED MODEL CURVES ================= -->
<g fill="none" stroke="#ff0000" stroke-width="7" stroke-linejoin="round" stroke-linecap="round">
<polyline points="257.6,246.7 290,286.7 321,325 330,336.7 363.3,380 396.7,423.3 430,466.7 463.3,501.7 496.7,526.7 530,546.7 563.3,560 596.7,568.3 630,572.7 670,575 700,577.5 740,579.5 770,580.5 800,580.5 830,579 860,574.5 875,571 890,566 905,559 920,550 935,539 950,526 965,511 980,495 995,478 1010,460 1025,442 1039.3,424 1066.3,387.3 1093.2,350.6 1120.2,313.8 1147.1,277 1174,247.5 1201,226.1 1228,213.9 1263,207 1298,211 1330.4,228.2 1362.7,256.7 1389.7,289.4 1416.6,326 1449,371 1481.3,415.8 1513.6,456.6 1546,497.4 1578.3,530 1621.4,560.7 1659,583 1713,599.4 1767,606.4 1810,609.6 1850.5,611.7"/>
<polyline points="258,1205 300,1201 333,1200 367,1205 400,1213 433,1225 467,1236 500,1245 546,1259 580,1271 613,1280 647,1286 680,1289 720,1288 760,1284 800,1277 840,1269 880,1262 920,1257 960,1255 1000,1256 1039,1260 1093,1263.5 1147,1265 1180,1263 1217,1258 1260,1251 1308.8,1242.6 1350,1234 1389.7,1229 1443.5,1226.7 1497.5,1232.4 1551.4,1248.8 1605.3,1269.2 1659.2,1288.8 1713,1306 1767,1314 1804.7,1315 1850.5,1313.4"/>
<polyline points="258.3,2091.2 306,2072 344.4,2063.5 382.7,2069.3 421,2083.7 459,2104 497.5,2130 535.8,2155.8 574,2177 613,2189.5 646.7,2193 680,2191 720,2184 760,2170 800,2152 840,2134 880,2121 912,2117 950,2119 990,2128 1039.3,2143.5 1080,2154 1120.2,2158.2 1160,2152 1201,2136.6 1254.9,2106 1308.8,2065.2 1362.7,2024.4 1416.6,1997.8 1465,1987.6 1513.6,1995.8 1556.7,2014.2 1605.3,2044.8 1659.2,2081.5 1713,2106 1767,2118.2 1810,2114 1850.5,2101.9"/>
</g>

<!-- ================= FRAMES & TICKS ================= -->
<g fill="none" stroke="#000">
<rect x="225.5" y="118" width="1658.5" height="638" stroke-width="5.5"/>
<rect x="225.5" y="934" width="1658.5" height="640" stroke-width="5.5"/>
<rect x="225.5" y="1751" width="1658.5" height="639" stroke-width="5.5"/>
<g stroke-width="2.6">
<use href="#tt" y="118"/><use href="#tb" y="756"/>
<use href="#tt" y="934"/><use href="#tb" y="1574"/>
<use href="#tt" y="1751"/><use href="#tb" y="2390"/>
<path d="M226 130.7h-19M226 280.4h-19M226 430h-19M226 579.7h-19M226 729.4h-19M1884 130.7h18M1884 280.4h18M1884 430h18M1884 579.7h18M1884 729.4h18"/>
<path d="M226 943.8h-19M226 1048.2h-19M226 1152.6h-19M226 1257h-19M226 1361.4h-19M226 1465.8h-19M226 1570.2h-19M1884 943.8h18M1884 1048.2h18M1884 1152.6h18M1884 1257h18M1884 1361.4h18M1884 1465.8h18M1884 1570.2h18"/>
<path d="M226 1824h-19M226 1957h-19M226 2090h-19M226 2223h-19M226 2356h-19M1884 1824h18M1884 1957h18M1884 2090h18M1884 2223h18M1884 2356h18"/>
</g>
</g>

<!-- ================= AXIS ANNOTATIONS ================= -->
<g class="b" font-size="42" text-anchor="end">
<text x="191" y="145.7">6</text><text x="191" y="295.4">3</text><text x="191" y="445">0</text><text x="191" y="594.7">−3</text><text x="191" y="744.4">−6</text>
<text x="191" y="958.8">6</text><text x="191" y="1063.2">4</text><text x="191" y="1167.6">2</text><text x="191" y="1272">0</text><text x="191" y="1376.4">−2</text><text x="191" y="1480.8">−4</text><text x="191" y="1585.2">−6</text>
<text x="191" y="1839">18</text><text x="191" y="1972">9</text><text x="191" y="2105">0</text><text x="191" y="2238">−9</text><text x="191" y="2371">−18</text>
</g>
<g class="b" font-size="42" text-anchor="middle">
<text x="769" y="822">2025.0</text><text x="1328" y="822">2025.5</text>
<text x="769" y="1640">2025.0</text><text x="1328" y="1640">2025.5</text>
<text x="769" y="2456">2025.0</text><text x="1328" y="2456">2025.5</text>
</g>

<!-- Axis titles -->
<g font-size="42" text-anchor="middle">
<text transform="translate(113,437) rotate(-90)">East (mm)</text>
<text transform="translate(113,1254) rotate(-90)">North (mm)</text>
<text transform="translate(90,2070) rotate(-90)">Up (mm)</text>
<text x="1055" y="2513">Time (year)</text>
</g>

<!-- Rates -->
<g class="b" font-size="35" text-anchor="end">
<text x="1816" y="160" textLength="356" lengthAdjust="spacingAndGlyphs">-0.643+/- 0.769 mm/yr</text>
<text x="1816" y="970" textLength="357" lengthAdjust="spacingAndGlyphs">-0.532+/- 0.838 mm/yr</text>
<text x="1816" y="2376" textLength="343" lengthAdjust="spacingAndGlyphs">5.001+/- 3.780 mm/yr</text>
</g>

<!-- Footer box -->
<rect x="225.5" y="2617" width="1658.5" height="154" fill="none" stroke="#000" stroke-width="5"/>
<g class="b" font-size="35" text-anchor="middle">
<text x="1056" y="2667" textLength="1208" lengthAdjust="spacingAndGlyphs">24 Hour Positions Using Final Orbits (blue) and Rapid Orbits (magenta).</text>
<text x="1053.5" y="2706" textLength="797" lengthAdjust="spacingAndGlyphs">Processed by the Nevada Geodetic Laboratory.</text>
<text x="1054.5" y="2747" textLength="821" lengthAdjust="spacingAndGlyphs">Plotted on 2026-Jan-9. Last data on 2025-Dec-20.</text>
</g>
</svg>
</body></html>
